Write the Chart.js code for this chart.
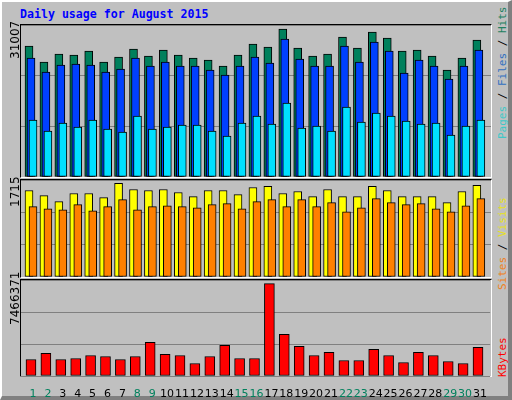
<!DOCTYPE html>
<html>
<head>
<meta charset="utf-8">
<script src="https://cdn.jsdelivr.net/npm/chart.js@4/dist/chart.umd.min.js"></script>
<style>
  body { margin: 0; background: #fff; }
  #frame { position: absolute; left: 0; top: 0; width: 512px; height: 400px; background: #c0c0c0;
           border-top: 2px solid #fff; border-left: 2px solid #fff; border-right: 4px solid #808080; border-bottom: 4px solid #808080;
           box-sizing: border-box; }
  .abs { position: absolute; }
  .panel { position: absolute; border-top: 1px solid #000; border-left: 1px solid #000; border-right: 1px solid #fff; border-bottom: 1px solid #fff; }
  .rot { position: absolute; transform-origin: 0 0; transform: rotate(-90deg); white-space: nowrap; }
  .ylab { font: 12px "DejaVu Sans", sans-serif; color: #000; }
  .side { font: 11px "DejaVu Sans Mono", monospace; }
  canvas { position: absolute; }
</style>
</head>
<body>
<div id="frame"></div>
<div class="abs" style="left:20px;top:7px;font:bold 11.6px 'DejaVu Sans Mono',monospace;color:#0000ff">Daily usage for August 2015</div>

<div class="panel" style="left:20px;top:24px;width:470px;height:152px"></div>
<div class="panel" style="left:20px;top:179px;width:470px;height:97px"></div>
<div class="panel" style="left:20px;top:279px;width:470px;height:96px"></div>
<canvas id="c1" width="470" height="152" style="left:21px;top:25px"></canvas>
<canvas id="c2" width="470" height="97" style="left:21px;top:180px"></canvas>
<canvas id="c3" width="470" height="118" style="left:21px;top:280px"></canvas>

<div class="rot ylab" style="left:8px;top:59px">31007</div>
<div class="rot ylab" style="left:8px;top:207px">1715</div>
<div class="rot ylab" style="left:8px;top:325px">7466371</div>

<div class="rot side" style="left:496px;top:139px"><span style="color:#40c8c8">Pages</span> / <span style="color:#3070c0">Files</span> / <span style="color:#208060">Hits</span></div>
<div class="rot side" style="left:496px;top:290px"><span style="color:#f08020">Sites</span> / <span style="color:#e8e020">Visits</span></div>
<div class="rot side" style="left:496px;top:377px"><span style="color:#ff0000">KBytes</span></div>

<script>
// data
const days = [1,2,3,4,5,6,7,8,9,10,11,12,13,14,15,16,17,18,19,20,21,22,23,24,25,26,27,28,29,30,31];
const weekend = [1,2,8,9,15,16,22,23,29,30];
const hits = [27445,24093,25769,25559,26397,24093,25140,26816,25350,26607,25559,24931,24512,23255,25559,27864,27235,31007,27026,25350,25769,29330,27026,30378,29121,26397,26607,25350,22417,24931,28702];
const files = [24931,21998,23464,23674,23464,21998,22626,24931,23255,24093,23255,23255,22417,21369,23255,25140,23883,28911,24721,23255,23255,27445,24093,28283,26397,21788,24512,23255,20531,23255,26607];
const pages = [11942,9637,11313,10475,11942,10056,9428,12780,10056,10475,10894,10894,9637,8590,11313,12780,11104,15503,10266,10685,9637,14665,11523,13408,12780,11732,11104,11313,8799,10685,11942];
const visits = [1585,1492,1380,1529,1529,1455,1715,1603,1585,1603,1548,1473,1585,1585,1510,1640,1659,1529,1566,1473,1603,1473,1473,1659,1585,1473,1473,1473,1362,1566,1678];
const sites = [1288,1250,1232,1325,1213,1288,1418,1232,1288,1306,1288,1269,1325,1343,1250,1380,1418,1288,1418,1288,1362,1195,1269,1436,1362,1325,1343,1250,1195,1306,1436];
const kbytes = [1335000,1826000,1335000,1417000,1662000,1580000,1335000,1580000,2725000,1744000,1662000,1008000,1580000,2480000,1417000,1417000,7466371,3379000,2398000,1662000,1908000,1254000,1254000,2153000,1662000,1090000,1908000,1662000,1172000,1008000,2316000];

Chart.defaults.animation = false;
Chart.defaults.devicePixelRatio = 1;

function series(vals, shift) {
    return vals.map((v, i) => ({ x: days[i] + shift, y: v }));
}
function bar(vals, shift, color, w, order) {
    return { data: series(vals, shift), backgroundColor: color, borderColor: '#000', borderWidth: 1,
             borderSkipped: false, barThickness: w, grouped: false, order: order };
}
function xScale(showTicks) {
    return {
        type: 'linear', min: 0.196, max: 31.68, offset: false,
        grid: { display: false }, border: { display: false },
        afterFit: s => { s.height = showTicks ? 22 : 0; },
        afterBuildTicks: s => { s.ticks = days.map(d => ({ value: d })); },
        ticks: showTicks ? {
            autoSkip: false, maxRotation: 0, padding: 4,
            font: { family: 'DejaVu Sans', size: 11 },
            color: ctx => weekend.includes(ctx.tick.value) ? '#00805c' : '#000',
            callback: v => String(v)
        } : { display: false }
    };
}
function yScale(max) {
    return {
        min: 0, max: max,
        afterFit: s => { s.width = 0; },
        border: { display: false },
        grid: { color: '#808080', drawTicks: false },
        ticks: { display: false, stepSize: max / 3 }
    };
}
function makeChart(id, datasets, max, showTicks) {
    new Chart(document.getElementById(id), {
        type: 'bar',
        data: { datasets: datasets },
        options: {
            responsive: false,
            layout: { padding: 0 },
            plugins: { legend: { display: false }, tooltip: { enabled: false } },
            scales: { x: xScale(showTicks), y: yScale(max) }
        }
    });
}

makeChart('c1', [
    bar(hits, -0.268, '#00805c', 8, 3),
    bar(files, -0.134, '#0040ff', 8, 2),
    bar(pages, 0, '#00e0ff', 8, 1)
], 31844, false);

makeChart('c2', [
    bar(visits, -0.268, '#ffff00', 8, 2),
    bar(sites, 0, '#ff8000', 8, 1)
], 1777, false);

makeChart('c3', [
    bar(kbytes, -0.134, '#ff0000', 10, 1)
], 7766000, true);
</script>
</body>
</html>
